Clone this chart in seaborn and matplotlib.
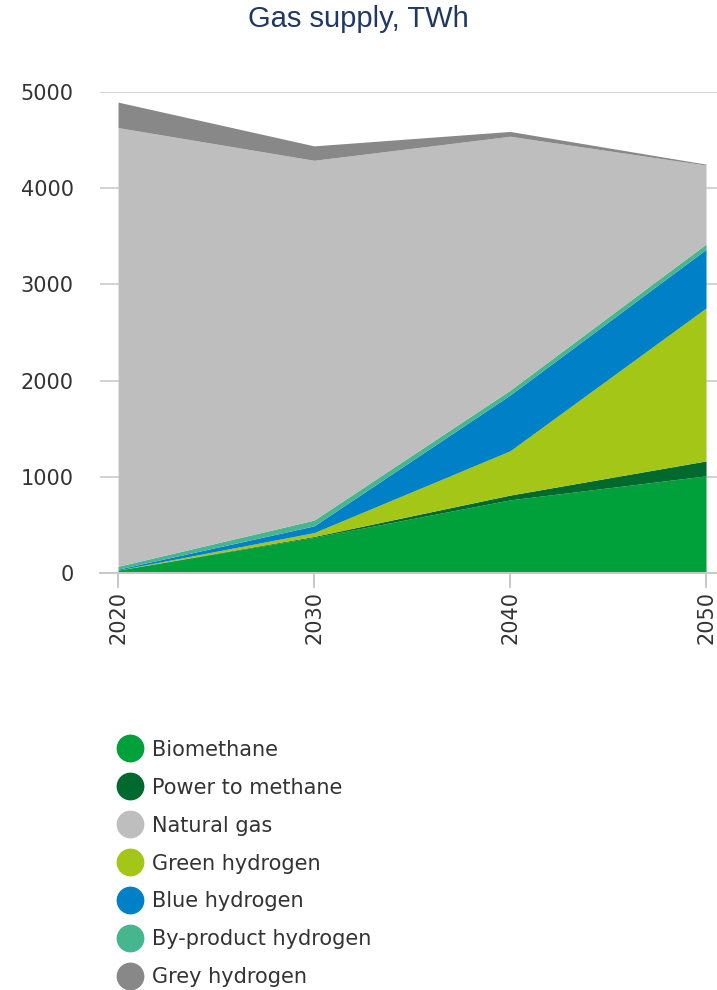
import pandas as pd
import matplotlib.pyplot as plt
from matplotlib.lines import Line2D
import seaborn as sns

sns.set_style('white')
plt.rcParams['font.family'] = ['DejaVu Sans']

# Data (TWh)
years = [2020, 2030, 2040, 2050]
biomethane = [30, 370, 760, 1010]
power_to_methane = [0, 10, 50, 155]
green_hydrogen = [0, 40, 460, 1590]
blue_hydrogen = [10, 70, 580, 610]
byproduct_hydrogen = [30, 60, 50, 55]
natural_gas = [4560, 3740, 2640, 820]
grey_hydrogen = [265, 150, 50, 10]

df = pd.DataFrame({
    'Biomethane': biomethane,
    'Power to methane': power_to_methane,
    'Green hydrogen': green_hydrogen,
    'Blue hydrogen': blue_hydrogen,
    'By-product hydrogen': byproduct_hydrogen,
    'Natural gas': natural_gas,
    'Grey hydrogen': grey_hydrogen,
}, index=years)

colors = {
    'Biomethane': '#00A03A',
    'Power to methane': '#006A2E',
    'Natural gas': '#BEBEBE',
    'Green hydrogen': '#A3C617',
    'Blue hydrogen': '#0081C7',
    'By-product hydrogen': '#45B68D',
    'Grey hydrogen': '#888888',
}
legend_order = ['Biomethane', 'Power to methane', 'Natural gas', 'Green hydrogen',
                'Blue hydrogen', 'By-product hydrogen', 'Grey hydrogen']

fig = plt.figure(figsize=(7.17, 9.9), dpi=100)
ax = fig.add_axes([100 / 717, 1 - 573 / 990, 617 / 717, (573 - 92) / 990])

ax.stackplot(df.index, [df[c] for c in df.columns],
             colors=[colors[c] for c in df.columns], linewidth=0)

ax.set_xlim(2019.08, 2050.56)
ax.set_ylim(0, 5000)
ax.set_axisbelow(True)
ax.yaxis.grid(True, color='#d2d2d2', linewidth=1.4)
ax.xaxis.grid(False)

ax.set_xticks(years)
ax.set_xticklabels([str(y) for y in years], rotation=90, va='top', ha='center')
ax.set_yticks([0, 1000, 2000, 3000, 4000, 5000])
ax.tick_params(axis='x', length=11, width=1.4, color='#c8c8c8', pad=2,
               labelsize=15, labelcolor='#333333', bottom=True)
ax.tick_params(axis='y', length=0, pad=19, labelsize=15, labelcolor='#333333')

sns.despine(ax=ax, left=True, top=True, right=True)
ax.spines['bottom'].set_color('#c8c8c8')
ax.spines['bottom'].set_linewidth(1.4)

fig.text(0.5, 1 - 19 / 990, 'Gas supply, TWh', ha='center', va='center',
         fontsize=21, color='#1F3864', family=['Liberation Sans'])

handles = [Line2D([0], [0], marker='o', linestyle='none', markersize=19,
                  markerfacecolor=colors[c], markeredgecolor=colors[c])
           for c in legend_order]
fig.legend(handles, legend_order, loc='upper left',
           bbox_to_anchor=(97 / 717, 1 - 721 / 990), frameon=False,
           fontsize=15, labelspacing=0.86, handletextpad=0.33,
           handlelength=1.4, labelcolor='#333333')

plt.savefig('out.png', dpi=100)
